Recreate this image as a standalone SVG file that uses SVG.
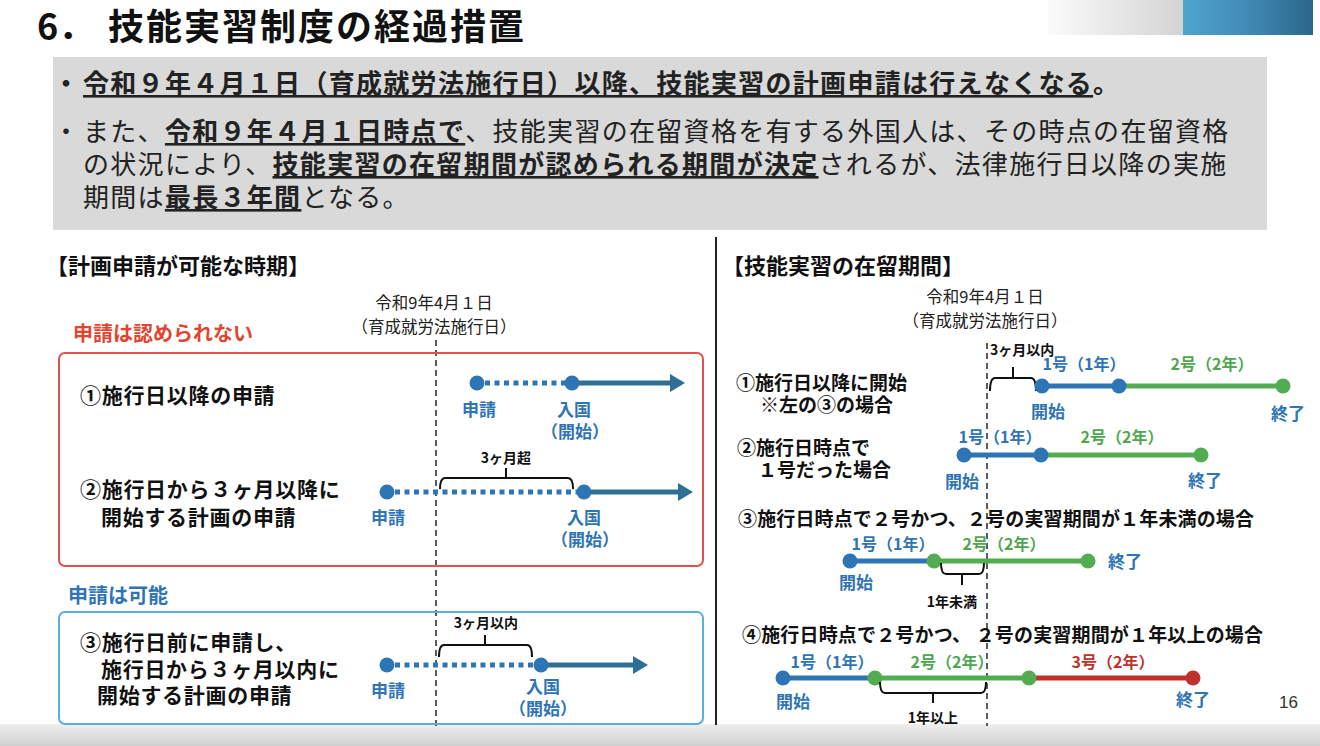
<svg xmlns="http://www.w3.org/2000/svg" width="1320" height="746" viewBox="0 0 1320 746">
<defs>
<linearGradient id="gGray" x1="0" y1="0" x2="1" y2="0"><stop offset="0" stop-color="#fbfbfb"/><stop offset="1" stop-color="#d4d4d4"/></linearGradient>
<linearGradient id="gBlue" x1="0" y1="0" x2="1" y2="0"><stop offset="0" stop-color="#4ea5cb"/><stop offset="0.5" stop-color="#418ab6"/><stop offset="1" stop-color="#2b6689"/></linearGradient>
<linearGradient id="gBottom" x1="0" y1="0" x2="0" y2="1"><stop offset="0" stop-color="#efefef"/><stop offset="1" stop-color="#cfcfcf"/></linearGradient>
</defs>
<style>
text{font-family:"Noto Sans CJK JP","Noto Sans",sans-serif;}
.b{font-weight:700;}
.u{text-decoration:underline;}
.lbl{font-size:21px;font-weight:700;fill:#111;letter-spacing:0.7px;}
.rl{font-size:19px;font-weight:700;fill:#111;}
.date{font-size:16.5px;fill:#222;text-anchor:middle;}
.bl{fill:#2f74b5;font-weight:700;font-size:17px;text-anchor:middle;}
.gn{fill:#4ea64f;font-weight:700;font-size:16px;text-anchor:middle;}
.bn{fill:#2f74b5;font-weight:700;font-size:16px;text-anchor:middle;}
.rn{fill:#c0312b;font-weight:700;font-size:16px;text-anchor:middle;}
.br{fill:none;stroke:#111;stroke-width:2;}
.bt{font-size:14px;font-weight:700;fill:#111;text-anchor:middle;}
.dot{stroke:#2e75b6;stroke-width:5;stroke-dasharray:5 4.5;}
.sol{stroke:#2e6f96;stroke-width:5;}
.cb{fill:#2e75b6;}
.cg{fill:#52ad52;}
.cr{fill:#c0312b;}
.lb{stroke:#2e75b6;stroke-width:5;}
.lg{stroke:#52ad52;stroke-width:5;}
.lr{stroke:#c0312b;stroke-width:5;}
.dash{stroke:#333;stroke-width:1.6;stroke-dasharray:6 4;}
</style>
<rect width="1320" height="746" fill="#ffffff"/>
<rect x="0" y="724" width="1320" height="22" fill="url(#gBottom)"/>
<g id="corner">
<rect x="1048" y="0" width="135" height="35" fill="url(#gGray)"/>
<rect x="1183" y="0" width="130" height="35" fill="url(#gBlue)"/>
</g>
<g id="title">
<text x="37" y="40" font-size="36" class="b" fill="#111">6．<tspan x="108" letter-spacing="2">技能実習制度の経過措置</tspan></text>
</g>
<g id="summary">
<rect x="53" y="57" width="1214" height="173" fill="#d9d9d9"/>
<g font-size="26" letter-spacing="1.3" fill="#222">
<text x="53" y="93" class="b">・</text>
<text x="83" y="93" class="b"><tspan class="u">令和９年４月１日（育成就労法施行日）以降、技能実習の計画申請は行えなくなる</tspan>。</text>
<text x="53" y="141">・</text>
<text x="83" y="141">また、<tspan class="b u">令和９年４月１日時点で</tspan>、技能実習の在留資格を有する外国人は、その時点の在留資格</text>
<text x="83" y="174">の状況により、<tspan class="b u">技能実習の在留期間が認められる期間が決定</tspan>されるが、法律施行日以降の実施</text>
<text x="83" y="207">期間は<tspan class="b u">最長３年間</tspan>となる。</text>
</g>
</g>
<line x1="716" y1="237" x2="716" y2="725" stroke="#222" stroke-width="2"/>
<g id="left-panel">
<text x="46" y="274" font-size="22" class="b" fill="#111">【計画申請が可能な時期】</text>
<text x="434" y="309" class="date">令和9年4月１日</text>
<text x="434" y="333" class="date">（育成就労法施行日）</text>
<line class="dash" x1="436" y1="340" x2="436" y2="726"/>
</g>
<g id="not-allowed">
<text x="73" y="341" font-size="20" class="b" fill="#e5432f">申請は認められない</text>
<rect x="59" y="353" width="644" height="213" rx="6" fill="none" stroke="#e0534a" stroke-width="2"/>
</g>
<g id="case1">
<text x="80" y="403" class="lbl">①施行日以降の申請</text>
<line class="dot" x1="485" y1="383" x2="566" y2="383"/>
<line class="sol" x1="572" y1="383" x2="672" y2="383"/>
<polygon points="670,374 685,383 670,392" fill="#2e6f96"/>
<circle class="cb" cx="477" cy="383" r="7.5"/>
<circle class="cb" cx="572" cy="383" r="7.5"/>
<text x="479" y="416" class="bl">申請</text>
<text x="574" y="416" class="bl">入国</text>
<text x="575" y="438" class="bl">（開始）</text>
</g>
<g id="case2">
<text x="80" y="497" class="lbl">②施行日から３ヶ月以降に</text>
<text x="101" y="525" class="lbl">開始する計画の申請</text>
<path class="br" d="M440,489 Q440,478 445,478 H568 Q573,478 573,489 M506,478 V468"/>
<text x="506" y="463" class="bt">3ヶ月超</text>
<line class="dot" x1="395" y1="492" x2="578" y2="492"/>
<line class="sol" x1="584" y1="492" x2="680" y2="492"/>
<polygon points="678,483 693,492 678,501" fill="#2e6f96"/>
<circle class="cb" cx="387" cy="492" r="7.5"/>
<circle class="cb" cx="584" cy="492" r="7.5"/>
<text x="388" y="524" class="bl">申請</text>
<text x="584" y="524" class="bl">入国</text>
<text x="585" y="546" class="bl">（開始）</text>
</g>
<g id="allowed">
<text x="68" y="603" font-size="20" class="b" fill="#2f74b5">申請は可能</text>
<rect x="59" y="612" width="644" height="112" rx="6" fill="none" stroke="#5aafd9" stroke-width="2"/>
</g>
<g id="case3">
<text x="80" y="650" class="lbl">③施行日前に申請し、</text>
<text x="101" y="677" class="lbl">施行日から３ヶ月以内に</text>
<text x="97" y="703" class="lbl">開始する計画の申請</text>
<path class="br" d="M439,657 Q439,645 444,645 H527 Q532,645 532,657 M485,645 V635"/>
<text x="486" y="628" class="bt">3ヶ月以内</text>
<line class="dot" x1="395" y1="665" x2="535" y2="665"/>
<line class="sol" x1="541" y1="665" x2="635" y2="665"/>
<polygon points="633,656 648,665 633,674" fill="#2e6f96"/>
<circle class="cb" cx="387" cy="665" r="7.5"/>
<circle class="cb" cx="541" cy="665" r="7.5"/>
<text x="388" y="697" class="bl">申請</text>
<text x="543" y="693" class="bl">入国</text>
<text x="543" y="715" class="bl">（開始）</text>
</g>
<g id="right-panel">
<text x="722" y="274" font-size="22" class="b" fill="#111">【技能実習の在留期間】</text>
<text x="985" y="303" class="date">令和9年4月１日</text>
<text x="985" y="327" class="date">（育成就労法施行日）</text>
<line class="dash" x1="987" y1="343" x2="987" y2="726"/>
</g>
<g id="period1">
<text x="736" y="390" class="rl">①施行日以降に開始</text>
<text x="760" y="412" class="rl">※左の③の場合</text>
<text x="990" y="355" font-size="14" class="b" fill="#111">3ヶ月以内</text>
<path class="br" d="M990,391 Q990,378 995,378 H1031 Q1036,378 1036,391 M1013,378 V367"/>
<line class="lb" x1="1042" y1="386" x2="1119" y2="386"/>
<line class="lg" x1="1119" y1="386" x2="1283" y2="386"/>
<circle class="cb" cx="1042" cy="386" r="7.5"/>
<circle class="cb" cx="1119" cy="386" r="7.5"/>
<circle class="cg" cx="1283" cy="386" r="7.5"/>
<text x="1084" y="370" class="bn">1号（1年）</text>
<text x="1212" y="370" class="gn">2号（2年）</text>
<text x="1048" y="418" class="bl">開始</text>
<text x="1288" y="420" class="bl">終了</text>
</g>
<g id="period2">
<text x="737" y="455" class="rl">②施行日時点で</text>
<text x="758" y="477" class="rl">１号だった場合</text>
<line class="lb" x1="964" y1="455" x2="1041" y2="455"/>
<line class="lg" x1="1041" y1="455" x2="1201" y2="455"/>
<circle class="cb" cx="964" cy="455" r="7.5"/>
<circle class="cb" cx="1041" cy="455" r="7.5"/>
<circle class="cg" cx="1201" cy="455" r="7.5"/>
<text x="1000" y="443" class="bn">1号（1年）</text>
<text x="1122" y="443" class="gn">2号（2年）</text>
<text x="962" y="488" class="bl">開始</text>
<text x="1205" y="487" class="bl">終了</text>
</g>
<g id="period3">
<text x="738" y="526" class="rl" textLength="516" lengthAdjust="spacing">③施行日時点で２号かつ、２号の実習期間が１年未満の場合</text>
<line class="lb" x1="850" y1="561" x2="934" y2="561"/>
<line class="lg" x1="934" y1="561" x2="1088" y2="561"/>
<circle class="cb" cx="850" cy="561" r="7.5"/>
<circle class="cg" cx="934" cy="561" r="7.5"/>
<circle class="cg" cx="1088" cy="561" r="7.5"/>
<text x="893" y="550" class="bn">1号（1年）</text>
<text x="1004" y="550" class="gn">2号（2年）</text>
<text x="1125" y="568" class="bl">終了</text>
<text x="856" y="589" class="bl">開始</text>
<path class="br" d="M941,563 Q941,574 946,574 H979 Q984,574 984,563 M962,574 V585"/>
<text x="952" y="607" class="bt">1年未満</text>
</g>
<g id="period4">
<text x="742" y="642" class="rl" textLength="521" lengthAdjust="spacing">④施行日時点で２号かつ、 ２号の実習期間が１年以上の場合</text>
<line class="lb" x1="783" y1="678" x2="875" y2="678"/>
<line class="lg" x1="875" y1="678" x2="1029" y2="678"/>
<line class="lr" x1="1029" y1="678" x2="1193" y2="678"/>
<circle class="cb" cx="783" cy="678" r="7.5"/>
<circle class="cg" cx="875" cy="678" r="7.5"/>
<circle class="cg" cx="1029" cy="678" r="7.5"/>
<circle class="cr" cx="1193" cy="678" r="7.5"/>
<text x="832" y="668" class="bn">1号（1年）</text>
<text x="952" y="668" class="gn">2号（2年）</text>
<text x="1113" y="668" class="rn">3号（2年）</text>
<text x="793" y="708" class="bl">開始</text>
<text x="1193" y="706" class="bl">終了</text>
<path class="br" d="M880,682 Q880,693 885,693 H981 Q986,693 986,682 M933,693 V703"/>
<text x="933" y="723" class="bt">1年以上</text>
</g>
<text x="1298" y="708" font-size="17" fill="#333" text-anchor="end" style="font-family:'Liberation Sans',sans-serif">16</text>
</svg>
